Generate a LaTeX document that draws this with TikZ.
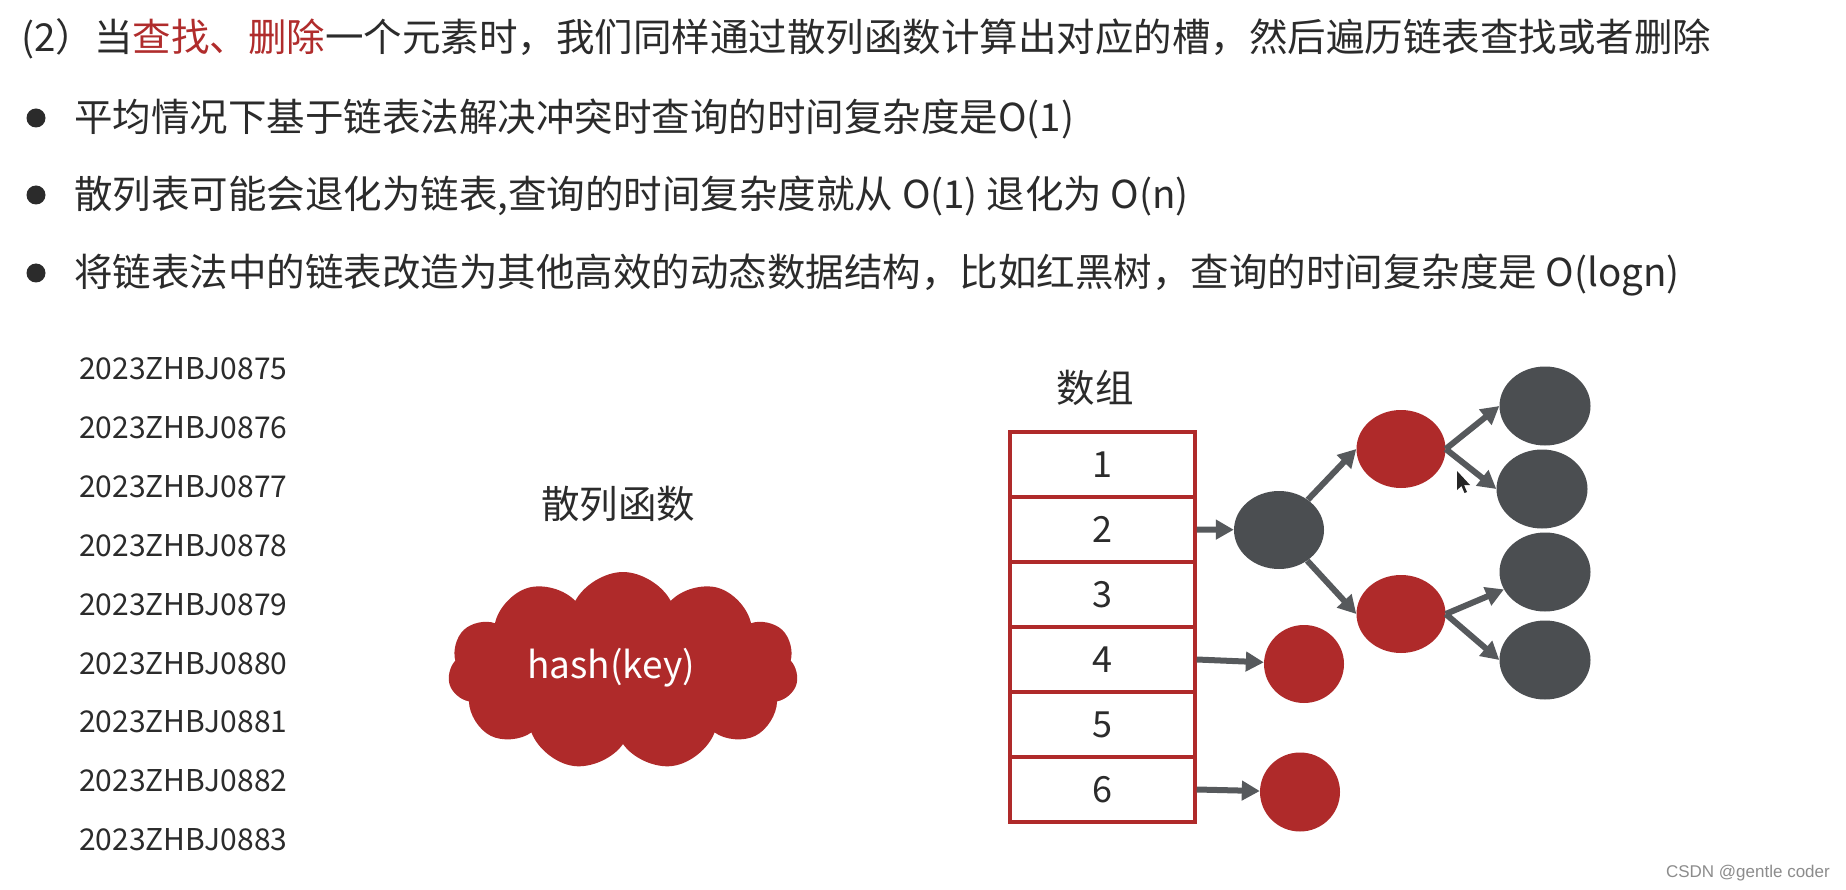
\documentclass[tikz,border=0pt]{standalone}
\usepackage{fontspec}
\setmainfont{Noto Sans CJK SC}
\newfontfamily\wmfont{Liberation Sans}
\usetikzlibrary{arrows.meta,shapes.symbols,shapes.geometric}
\definecolor{txt}{HTML}{2B2B2B}
\definecolor{hred}{HTML}{AF2A2A}
\definecolor{tred}{HTML}{B02C2C}
\definecolor{dgray}{HTML}{4B4E51}
\definecolor{agray}{HTML}{56595C}
\definecolor{wmc}{HTML}{8C8C8C}
\begin{document}
\begin{tikzpicture}[x=1pt,y=-1pt,
  big/.style={font=\fontsize{38.5}{40}\selectfont, text=txt, inner sep=0},
  keyf/.style={font=\fontsize{30}{32}\selectfont, text=txt, inner sep=0, anchor=base west},
  dot/.style={circle, fill=txt, minimum size=19pt, inner sep=0},
  cellbox/.style={draw=hred, line width=3.5pt, minimum width=185pt, minimum height=65pt, inner sep=0,
     font=\fontsize{36}{38}\selectfont, text=txt},
  rnode/.style={ellipse, fill=hred, inner sep=0, minimum width=89pt, minimum height=78pt},
  gnode/.style={ellipse, fill=dgray, inner sep=0, minimum width=91pt, minimum height=79pt},
  arr/.style={draw=agray, line width=6pt, -{Triangle[length=18pt,width=19pt]}}]
\useasboundingbox (0,0) rectangle (1846,890);
\fill[white] (0,0) rectangle (1846,890);

% heading and bullets
\node[big, anchor=base west] (t0) at (21,52) {(2）当\textcolor{tred}{查找、删除}一个元素时，我们同样通过散列函数计算出对应的槽，然后遍历链表查找或者删除};
\node[dot] (b1) at (36,118) {};
\node[dot] (b2) at (36,195) {};
\node[dot] (b3) at (36,273) {};
\node[big, anchor=base west] (l1) at (74,132) {平均情况下基于链表法解决冲突时查询的时间复杂度是O(1)};
\node[big, anchor=base west] (l2) at (74,209) {散列表可能会退化为链表,查询的时间复杂度就从 O(1) 退化为 O(n)};
\node[big, anchor=base west] (l3) at (74,287) {将链表法中的链表改造为其他高效的动态数据结构，比如红黑树，查询的时间复杂度是 O(logn)};

% keys
\foreach \i/\n in {0/0875,1/0876,2/0877,3/0878,4/0879,5/0880,6/0881,7/0882,8/0883}
  \node[keyf] (k\i) at (79,{379.5+58.9*\i}) {2023ZHBJ\n};

% hash function
\node[big] (hf) at (618,504) {散列函数};
\node[cloud, cloud puffs=11, cloud puff arc=125, cloud ignores aspect, minimum width=350pt, minimum height=198pt, fill=hred, inner sep=0] (cl) at (623,671) {};
\node[font=\fontsize{37}{40}\selectfont, text=white, anchor=base, inner sep=0] (hk) at (611,678) {hash(key)};

% array
\node[big] (arrlab) at (1095,388) {数组};
\foreach \i in {1,...,6}
  \node[cellbox] (c\i) at (1102.5,{464.5+65*(\i-1)}) {\i};

% tree nodes
\node[gnode, minimum width=90pt, minimum height=78pt] (root) at (1279,530) {};
\node[rnode] (rU) at (1401,449) {};
\node[rnode] (rL) at (1401,614) {};
\node[gnode] (g1) at (1545,406) {};
\node[gnode] (g2) at (1542,489) {};
\node[gnode] (g3) at (1545,572) {};
\node[gnode] (g4) at (1545,660) {};
\node[rnode, minimum width=80pt, minimum height=78pt] (r4) at (1304,664) {};
\node[rnode, minimum width=80pt, minimum height=79pt] (r6) at (1300,792) {};

% arrows
\draw[arr] (c2.east) -- (root);
\draw[arr] (c4.east) -- (r4);
\draw[arr] (c6.east) -- (r6);
\draw[arr] (root) -- (rU.west);
\draw[arr] (root) -- (rL.west);
\draw[arr] (rU.east) -- (g1.west);
\draw[arr] (rU.east) -- (g2.west);
\draw[arr] (rL.east) -- (g3);
\draw[arr] (rL.east) -- (g4.west);

% mouse cursor
\fill[black!85] (1457,471) -- ++(0,19) -- ++(4.5,-4) -- ++(3,7) -- ++(2.5,-1) -- ++(-3,-7) -- ++(6,0) -- cycle;

% watermark
\node[font=\wmfont\fontsize{17}{18}\selectfont, text=wmc, anchor=base east, inner sep=0] (wm) at (1830,877) {CSDN @gentle coder};
\end{tikzpicture}
\end{document}
